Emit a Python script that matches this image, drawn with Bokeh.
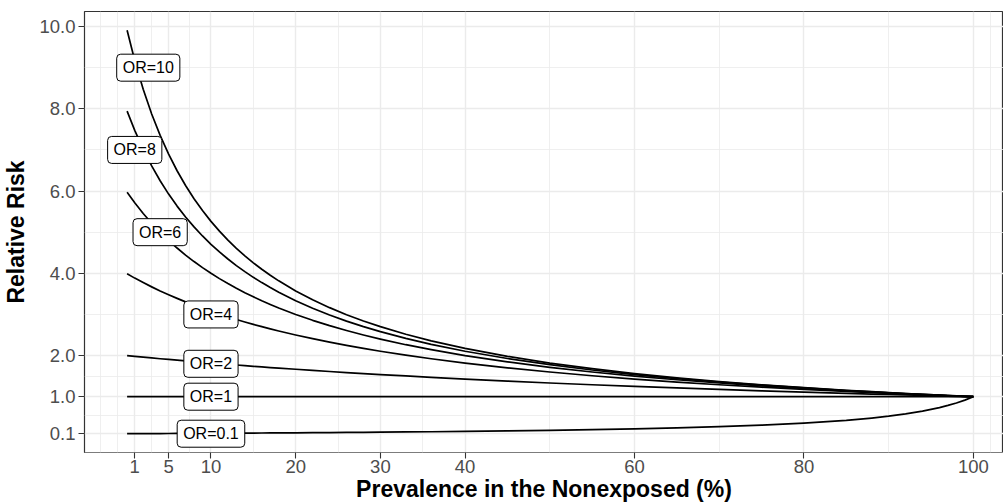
from bokeh.plotting import figure
from bokeh.models import Range1d, FixedTicker, Label
from bokeh.embed import file_html
from bokeh.resources import INLINE

# Prevalence in the nonexposed (%)
prevalence = [0.1, 1, 2, 3, 4, 5, 6, 7, 8, 9, 10, 11, 12, 13, 14, 15, 16, 17, 18,
              20, 22, 24, 26, 28, 30, 33, 36, 40, 45, 50, 55, 60, 65, 70, 75, 80,
              85, 88, 90, 92, 94, 96, 97, 98, 99, 100]

# Relative risk curves, one per odds ratio
rr_or10 = [9.911, 9.174, 8.475, 7.874, 7.353, 6.897, 6.494, 6.135, 5.814, 5.525,
           5.263, 5.025, 4.808, 4.608, 4.425, 4.255, 4.098, 3.953, 3.817,
           3.571, 3.356, 3.165, 2.994, 2.841, 2.703, 2.519, 2.358, 2.174, 1.980,
           1.818, 1.681, 1.563, 1.460, 1.370, 1.290, 1.220,
           1.156, 1.121, 1.099, 1.078, 1.057, 1.037, 1.028, 1.018, 1.009, 1.0]
rr_or8 = [7.944, 7.477, 7.018, 6.612, 6.250, 5.926, 5.634, 5.369, 5.128, 4.908,
          4.706, 4.520, 4.348, 4.188, 4.040, 3.902, 3.774, 3.653, 3.540,
          3.333, 3.150, 2.985, 2.837, 2.703, 2.581, 2.417, 2.273, 2.105, 1.928,
          1.778, 1.649, 1.538, 1.441, 1.356, 1.280, 1.212,
          1.151, 1.117, 1.096, 1.075, 1.055, 1.036, 1.027, 1.018, 1.009, 1.0]
rr_or6 = [5.970, 5.714, 5.455, 5.217, 5.000, 4.800, 4.615, 4.444, 4.286, 4.138,
          4.000, 3.871, 3.750, 3.636, 3.529, 3.429, 3.333, 3.243, 3.158,
          3.000, 2.857, 2.727, 2.609, 2.500, 2.400, 2.264, 2.143, 2.000, 1.846,
          1.714, 1.600, 1.500, 1.412, 1.333, 1.263, 1.200,
          1.143, 1.111, 1.091, 1.071, 1.053, 1.034, 1.026, 1.017, 1.008, 1.0]
rr_or4 = [3.988, 3.883, 3.774, 3.670, 3.571, 3.478, 3.390, 3.306, 3.226, 3.150,
          3.077, 3.008, 2.941, 2.878, 2.817, 2.759, 2.703, 2.649, 2.597,
          2.500, 2.410, 2.326, 2.247, 2.174, 2.105, 2.010, 1.923, 1.818, 1.702,
          1.600, 1.509, 1.429, 1.356, 1.290, 1.231, 1.176,
          1.127, 1.099, 1.081, 1.064, 1.047, 1.031, 1.023, 1.015, 1.008, 1.0]
rr_or2 = [1.998, 1.980, 1.961, 1.942, 1.923, 1.905, 1.887, 1.869, 1.852, 1.835,
          1.818, 1.802, 1.786, 1.770, 1.754, 1.739, 1.724, 1.709, 1.695,
          1.667, 1.639, 1.613, 1.587, 1.563, 1.538, 1.504, 1.471, 1.429, 1.379,
          1.333, 1.290, 1.250, 1.212, 1.176, 1.143, 1.111,
          1.081, 1.064, 1.053, 1.042, 1.031, 1.020, 1.015, 1.010, 1.005, 1.0]
rr_or1 = [1.0, 1.0, 1.0, 1.0, 1.0, 1.0, 1.0, 1.0, 1.0, 1.0,
          1.0, 1.0, 1.0, 1.0, 1.0, 1.0, 1.0, 1.0, 1.0,
          1.0, 1.0, 1.0, 1.0, 1.0, 1.0, 1.0, 1.0, 1.0, 1.0,
          1.0, 1.0, 1.0, 1.0, 1.0, 1.0, 1.0,
          1.0, 1.0, 1.0, 1.0, 1.0, 1.0, 1.0, 1.0, 1.0, 1.0]
rr_or01 = [0.1001, 0.1009, 0.1018, 0.1028, 0.1037, 0.1047, 0.1057, 0.1067, 0.1078, 0.1088,
           0.1099, 0.1110, 0.1121, 0.1133, 0.1144, 0.1156, 0.1168, 0.1181, 0.1193,
           0.1220, 0.1247, 0.1276, 0.1305, 0.1337, 0.1370, 0.1422, 0.1479, 0.1563, 0.1681,
           0.1818, 0.1980, 0.2174, 0.2410, 0.2703, 0.3077, 0.3571,
           0.4255, 0.4808, 0.5263, 0.5814, 0.6494, 0.7353, 0.7874, 0.8475, 0.9174, 1.0]

curves = [rr_or10, rr_or8, rr_or6, rr_or4, rr_or2, rr_or1, rr_or01]

# Curve labels
label_text = ["OR=10", "OR=8", "OR=6", "OR=4", "OR=2", "OR=1", "OR=0.1"]
label_x = [2.6, 1.0, 4.0, 10.0, 10.0, 10.0, 10.0]
label_y = [9.0, 7.0, 5.0, 3.0, 1.8, 1.0, 0.1]

# Axes ticks
x_ticks = [1, 5, 10, 20, 30, 40, 60, 80, 100]
x_minor = [-3, -1, 3, 7.5, 15, 25, 35, 50, 70, 90, 102]
y_ticks = [0.1, 1, 2, 4, 6, 8, 10]
y_tick_labels = ["0.1", "1.0", "2.0", "4.0", "6.0", "8.0", "10.0"]
y_minor = [-0.35, 0.55, 1.5, 3, 5, 7, 9]

FONT = "Liberation Sans"

p = figure(width=1003, height=504, output_backend="svg", toolbar_location=None,
           x_range=Range1d(-4.93, 103.56), y_range=Range1d(-0.357, 10.366),
           min_border_left=83, min_border_top=11, min_border_right=0, min_border_bottom=0)

p.background_fill_color = "white"
p.border_fill_color = "white"
p.outline_line_color = "#333333"
p.outline_line_width = 1.2

p.xaxis.ticker = FixedTicker(ticks=x_ticks, minor_ticks=x_minor)
p.yaxis.ticker = FixedTicker(ticks=y_ticks, minor_ticks=y_minor)
p.yaxis.major_label_overrides = {t: s for t, s in zip(y_ticks, y_tick_labels)}
p.xaxis.major_label_overrides = {t: str(t) for t in x_ticks}

for ax in (p.xaxis, p.yaxis):
    ax.axis_line_color = None
    ax.major_tick_line_color = "#333333"
    ax.major_tick_line_width = 1.1
    ax.major_tick_in = 0
    ax.major_tick_out = 6
    ax.minor_tick_in = 0
    ax.minor_tick_out = 0
    ax.major_label_text_font = FONT
    ax.major_label_text_font_size = "18.5px"
    ax.major_label_text_color = "#4D4D4D"
    ax.axis_label_text_font = FONT
    ax.axis_label_text_font_size = "23px"
    ax.axis_label_text_font_style = "bold"
    ax.axis_label_text_color = "black"

p.xaxis.axis_label = "Prevalence in the Nonexposed (%)"
p.yaxis.axis_label = "Relative Risk"
p.xaxis.major_label_standoff = 1
p.xaxis.axis_label_standoff = 0
p.yaxis.major_label_standoff = 3
p.yaxis.axis_label_standoff = 7

for g in (p.xgrid, p.ygrid):
    g.grid_line_color = "#EBEBEB"
    g.grid_line_width = 1.4
    g.minor_grid_line_color = "#EBEBEB"
    g.minor_grid_line_width = 0.8

for rr in curves:
    p.line(prevalence, rr, line_color="black", line_width=1.7, line_join="round")

for t, lx, ly in zip(label_text, label_x, label_y):
    p.add_layout(Label(x=lx, y=ly, x_units="data", y_units="data", text=t,
                       text_font=FONT, text_font_size="16px", text_color="black",
                       text_align="center", text_baseline="middle",
                       background_fill_color="white", background_fill_alpha=1.0,
                       border_line_color="black", border_line_width=1,
                       border_radius=4,
                       padding=dict(left=6, right=6, top=5, bottom=5)))

open("out.html", "w").write(file_html(p, INLINE))
